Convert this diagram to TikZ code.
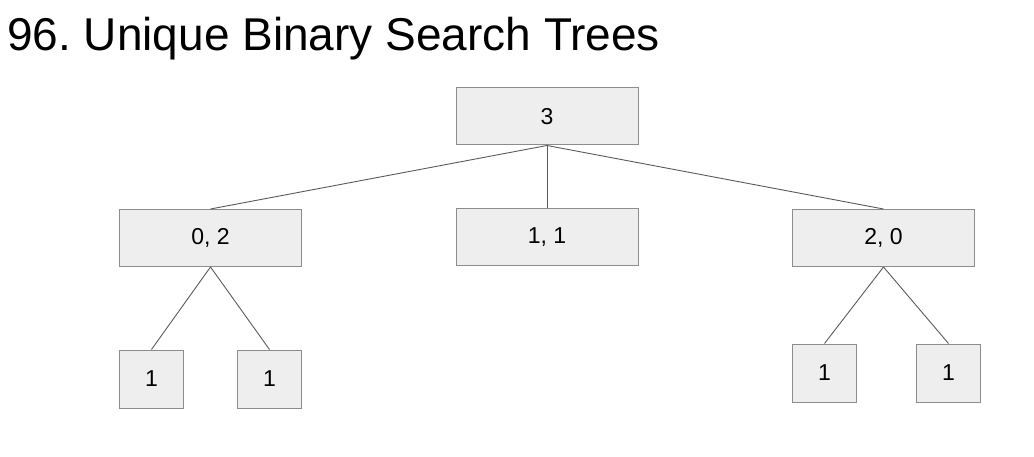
\documentclass[tikz,border=0pt]{standalone}
\usepackage{fontspec}
\setmainfont{Liberation Sans}
\definecolor{boxfill}{HTML}{EEEEEE}
\definecolor{boxline}{HTML}{8C8C8C}
\definecolor{edgecol}{HTML}{5A5A5A}
\begin{document}
\begin{tikzpicture}[x=1pt,y=-1pt,
  tnode/.style={draw=boxline,fill=boxfill,line width=1pt,inner sep=0pt,font=\fontsize{23}{27}\selectfont},
  wide/.style={tnode,minimum width=182pt,minimum height=57pt},
  leaf/.style={tnode,minimum width=64pt,minimum height=58pt},
  edge/.style={draw=edgecol,line width=0.9pt}]
\useasboundingbox (0,0) rectangle (1034,457);
\node[anchor=base west,font=\fontsize{46}{52}\selectfont\frenchspacing,inner sep=0pt] (title) at (7,51) {96. Unique Binary Search Trees};
\node[wide] (root) at (547,116.5) {3};
\node[wide] (a) at (210.5,238) {0, 2};
\node[wide] (b) at (547,237.5) {1, 1};
\node[wide] (c) at (883.5,238) {2, 0};
\node[leaf] (a1) at (151.5,379) {1};
\node[leaf] (a2) at (269.5,379) {1};
\node[leaf] (c1) at (824.5,373) {1};
\node[leaf] (c2) at (948.5,373) {1};
\draw[edge] (root.south) -- (a.north);
\draw[edge] (root.south) -- (b.north);
\draw[edge] (root.south) -- (c.north);
\draw[edge] (a.south) -- (a1.north);
\draw[edge] (a.south) -- (a2.north);
\draw[edge] (c.south) -- (c1.north);
\draw[edge] (c.south) -- (c2.north);
\end{tikzpicture}
\end{document}
